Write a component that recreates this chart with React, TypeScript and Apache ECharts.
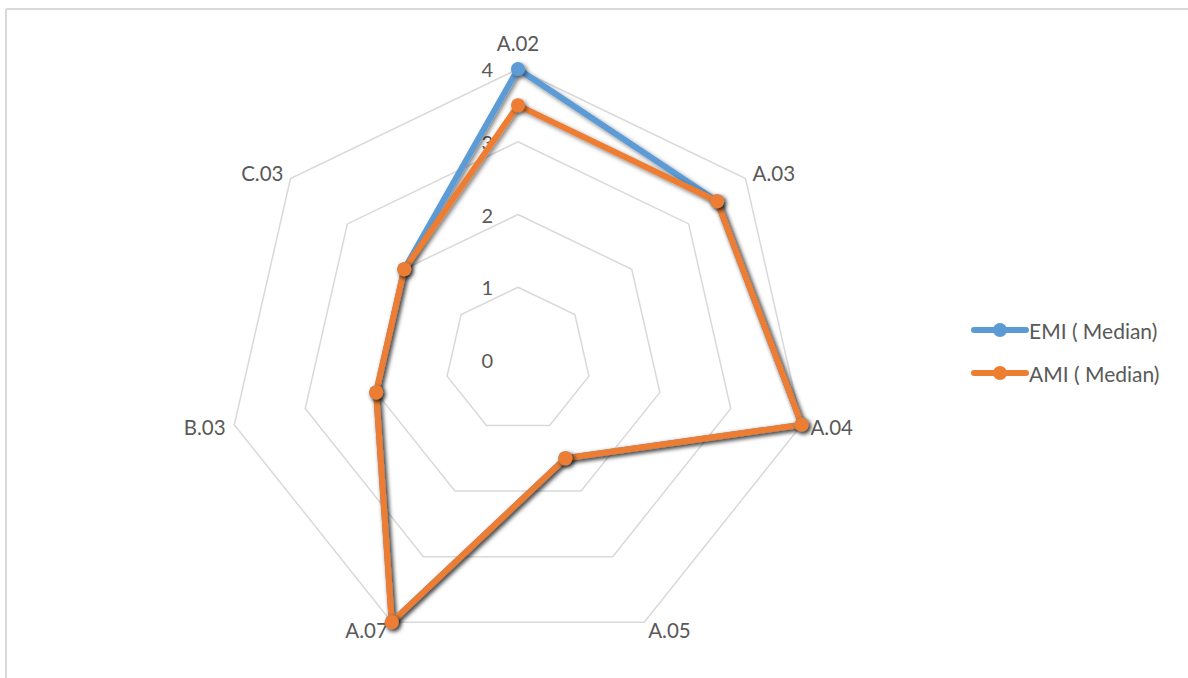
import React, { useEffect, useRef } from "react";
import * as echarts from "echarts";

// Categories in clockwise order starting from the top
const categories = ["A.02", "A.03", "A.04", "A.05", "A.07", "B.03", "C.03"];
const emiValues = [4, 3.5, 4, 1.5, 4, 2, 2];
const amiValues = [3.5, 3.5, 4, 1.5, 4, 2, 2];
const seriesNames = ["EMI ( Median)", "AMI ( Median)"];
const seriesColors = ["#5B9BD5", "#ED7D31"];
const axisMin = 0;
const axisMax = 4;
const axisSplit = 4;

// ECharts radar lays indicators out counter-clockwise; reorder to get a clockwise layout
function toCCW<T>(arr: T[]): T[] {
  return [arr[0], ...arr.slice(1).reverse()];
}

const FONT = "Lato, 'Open Sans', sans-serif";
const TEXT_COLOR = "#595959";

// legend marker: rounded line with a circle in the middle
const LEGEND_ICON =
  "path://M3,4 L55,4 A3,3 0 0 1 55,10 L3,10 A3,3 0 0 1 3,4 Z M22,7 A7,7 0 1 1 36,7 A7,7 0 1 1 22,7 Z";

export default function App() {
  const ref = useRef<HTMLDivElement>(null);

  useEffect(() => {
    if (!ref.current) return;
    const chart = echarts.init(ref.current, null, { renderer: "svg" });

    const cats = toCCW(categories);
    const indicator = cats.map((name, i) => ({
      name,
      min: axisMin,
      max: axisMax,
      nameGap: i === 0 ? 16 : 9,
      axisLabel: { show: i === 0 },
    }));

    const lineShadow = {
      shadowColor: "rgba(0,0,0,0.5)",
      shadowBlur: 4,
      shadowOffsetX: 2,
      shadowOffsetY: 2,
    };

    chart.setOption({
      animation: false,
      backgroundColor: "#ffffff",
      textStyle: { fontFamily: FONT },
      graphic: [
        {
          type: "line",
          shape: { x1: 6, y1: 9, x2: 1188, y2: 9 },
          style: { stroke: "#D9D9D9", lineWidth: 2 },
          silent: true,
        },
        {
          type: "line",
          shape: { x1: 6, y1: 9, x2: 6, y2: 678 },
          style: { stroke: "#D9D9D9", lineWidth: 2 },
          silent: true,
        },
      ],
      legend: {
        orient: "vertical",
        left: 966,
        top: 314,
        itemWidth: 58,
        itemHeight: 14,
        itemGap: 21,
        data: seriesNames.map((name) => ({ name, icon: LEGEND_ICON })),
        textStyle: {
          color: TEXT_COLOR,
          fontSize: 21,
          lineHeight: 22,
          fontFamily: FONT,
          padding: [0, 0, 0, -5],
        },
      },
      radar: {
        center: [518, 360],
        radius: 291,
        startAngle: 90,
        shape: "polygon",
        splitNumber: axisSplit,
        indicator,
        axisName: {
          color: TEXT_COLOR,
          fontSize: 20.5,
          fontFamily: FONT,
        },
        axisLine: { show: false },
        axisTick: { show: false },
        axisLabel: {
          show: false,
          color: TEXT_COLOR,
          fontSize: 20,
          fontFamily: FONT,
          margin: 25,
          showMinLabel: true,
          showMaxLabel: true,
        },
        splitLine: { lineStyle: { color: "#D9D9D9", width: 1.5 } },
        splitArea: { show: false },
      },
      series: [
        {
          type: "radar",
          symbol: "circle",
          symbolSize: 14,
          data: [
            {
              name: seriesNames[0],
              value: toCCW(emiValues),
              lineStyle: { color: seriesColors[0], width: 6, ...lineShadow },
              itemStyle: { color: seriesColors[0], ...lineShadow },
            },
            {
              name: seriesNames[1],
              value: toCCW(amiValues),
              lineStyle: { color: seriesColors[1], width: 6, ...lineShadow },
              itemStyle: { color: seriesColors[1], ...lineShadow },
            },
          ],
        },
      ],
      color: seriesColors,
    });

    return () => chart.dispose();
  }, []);

  return (
    <div
      style={{
        position: "fixed",
        left: 0,
        top: 0,
        width: 1188,
        height: 678,
        overflow: "hidden",
        background: "#fff",
      }}
    >
      <div ref={ref} style={{ width: 1188, height: 678 }} />
    </div>
  );
}
